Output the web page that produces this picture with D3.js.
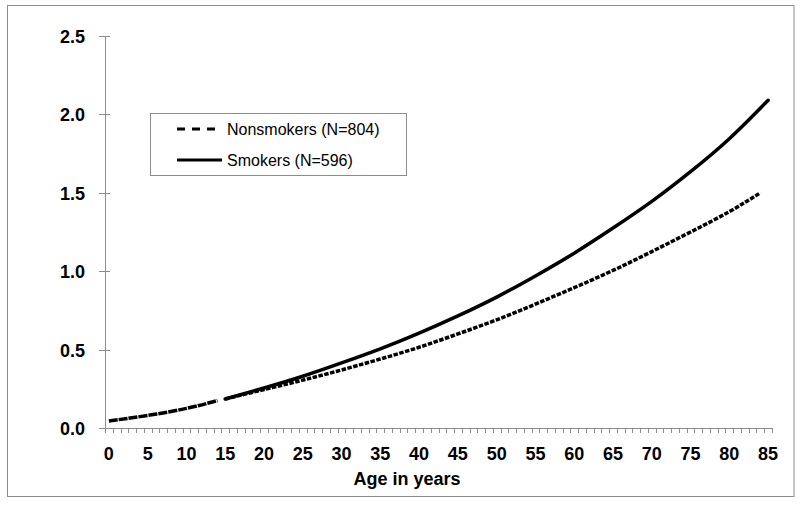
<!DOCTYPE html>
<html>
<head>
<meta charset="utf-8">
<script src="https://cdn.jsdelivr.net/npm/d3@7"></script>
<style>
  body { margin: 0; background: #fff; }
  svg text { font-family: "Liberation Sans", Arial, sans-serif; fill: #000; }
</style>
</head>
<body>
<div id="chart"></div>
<script>
// ages 0..85 are the categories of the x axis
var ages = d3.range(0, 86);
var xTickLabels = d3.range(0, 86, 5);
var yTicks = [0, 0.5, 1.0, 1.5, 2.0, 2.5];

// childhood part (shared)
var childAges = [0, 5, 10, 14];
var childVals = [0.045, 0.08, 0.125, 0.175];

var nonAges = [15, 20, 25, 30, 35, 40, 45, 50, 55, 60, 65, 70, 75, 80, 84];
var nonVals = [0.185, 0.245, 0.305, 0.37, 0.44, 0.515, 0.60, 0.69, 0.79, 0.895, 1.005, 1.125, 1.25, 1.38, 1.50];

var smokAges = [15, 20, 25, 30, 35, 40, 45, 50, 55, 60, 65, 70, 75, 80, 85];
var smokVals = [0.185, 0.255, 0.33, 0.415, 0.505, 0.605, 0.715, 0.835, 0.97, 1.115, 1.275, 1.445, 1.635, 1.845, 2.09];

var legendLabels = ["Nonsmokers (N=804)", "Smokers (N=596)"];
var xTitle = "Age in years";

var W = 800, H = 506;
var svg = d3.select("#chart").append("svg")
  .attr("width", W)
  .attr("height", H);

// outer frame
svg.append("rect")
  .attr("x", 7.5).attr("y", 5.5)
  .attr("width", 786.5).attr("height", 491)
  .attr("fill", "#fff")
  .attr("stroke", "#8c8c8c")
  .attr("stroke-width", 1);

var pLeft = 105, pRight = 772, pTop = 36, pBottom = 428;

var x = d3.scaleBand()
  .domain(ages)
  .range([pLeft, pRight]);

var y = d3.scaleLinear()
  .domain([0, 2.5])
  .range([pBottom, pTop]);

function cx(a){ return x(a) + x.bandwidth()/2; }

// y axis
var yAxis = svg.append("g").attr("class", "yaxis");
yAxis.append("line")
  .attr("x1", pLeft + 0.5).attr("x2", pLeft + 0.5)
  .attr("y1", pTop).attr("y2", pBottom)
  .attr("stroke", "#8c8c8c");
yAxis.selectAll(".ytick")
  .data(yTicks)
  .enter()
  .append("line")
  .attr("class", "ytick")
  .attr("x1", pLeft - 6).attr("x2", pLeft + 5)
  .attr("y1", function(d){ return Math.round(y(d)) + 0.5; })
  .attr("y2", function(d){ return Math.round(y(d)) + 0.5; })
  .attr("stroke", "#8c8c8c");
yAxis.selectAll(".ylabel")
  .data(yTicks)
  .enter()
  .append("text")
  .attr("class", "ylabel")
  .attr("x", 85)
  .attr("y", function(d){ return y(d) + 7; })
  .attr("text-anchor", "end")
  .style("font-size", "18px")
  .style("font-weight", "bold")
  .text(function(d){ return d.toFixed(1); });

// x axis
var xAxis = svg.append("g").attr("class", "xaxis");
xAxis.append("line")
  .attr("x1", pLeft).attr("x2", pRight)
  .attr("y1", pBottom + 0.5).attr("y2", pBottom + 0.5)
  .attr("stroke", "#8c8c8c");
var bounds = ages.map(function(a){ return x(a); }).concat([pRight]);
xAxis.selectAll(".xtick")
  .data(bounds)
  .enter()
  .append("line")
  .attr("class", "xtick")
  .attr("x1", function(d){ return Math.round(d) + 0.5; })
  .attr("x2", function(d){ return Math.round(d) + 0.5; })
  .attr("y1", pBottom).attr("y2", pBottom + 5)
  .attr("stroke", "#8c8c8c");
xAxis.selectAll(".xlabel")
  .data(xTickLabels)
  .enter()
  .append("text")
  .attr("class", "xlabel")
  .attr("x", function(d){ return cx(d); })
  .attr("y", 460)
  .attr("text-anchor", "middle")
  .style("font-size", "18px")
  .style("font-weight", "bold")
  .text(String);

svg.append("text")
  .attr("x", 407)
  .attr("y", 485)
  .attr("text-anchor", "middle")
  .style("font-size", "18px")
  .style("font-weight", "bold")
  .text(xTitle);

// lines
var line = d3.line()
  .x(function(d){ return cx(d[0]); })
  .y(function(d){ return y(d[1]); })
  .curve(d3.curveNatural);

function pairs(a, v){ return a.map(function(d, i){ return [d, v[i]]; }); }

svg.append("path")
  .datum(pairs(childAges, childVals))
  .attr("d", line)
  .attr("fill", "none")
  .attr("stroke", "#000")
  .attr("stroke-width", 3.5)
  .attr("stroke-dasharray", "9,1");

svg.append("path")
  .datum(pairs(nonAges, nonVals))
  .attr("d", line)
  .attr("fill", "none")
  .attr("stroke", "#000")
  .attr("stroke-width", 3.5)
  .attr("stroke-dasharray", "4.5,1.5");

svg.append("path")
  .datum(pairs(smokAges, smokVals))
  .attr("d", line)
  .attr("fill", "none")
  .attr("stroke", "#000")
  .attr("stroke-width", 3.5)
  .attr("stroke-linecap", "round");

// legend
var lg = svg.append("g").attr("class", "legend");
lg.append("rect")
  .attr("x", 150.5).attr("y", 113.5)
  .attr("width", 256).attr("height", 62)
  .attr("fill", "#fff")
  .attr("stroke", "#8c8c8c");
var dashes = ["8,7", null];
lg.selectAll(".lgline")
  .data(legendLabels)
  .enter()
  .append("line")
  .attr("class", "lgline")
  .attr("x1", 177).attr("x2", function(d, i){ return i === 0 ? 216 : 222; })
  .attr("y1", function(d, i){ return 129 + i*31; })
  .attr("y2", function(d, i){ return 129 + i*31; })
  .attr("stroke", "#000")
  .attr("stroke-width", 3)
  .attr("stroke-dasharray", function(d, i){ return dashes[i]; });
lg.selectAll(".lgtext")
  .data(legendLabels)
  .enter()
  .append("text")
  .attr("class", "lgtext")
  .attr("x", 227)
  .attr("y", function(d, i){ return 135 + i*31; })
  .style("font-size", "16px")
  .text(String);
</script>
</body>
</html>
